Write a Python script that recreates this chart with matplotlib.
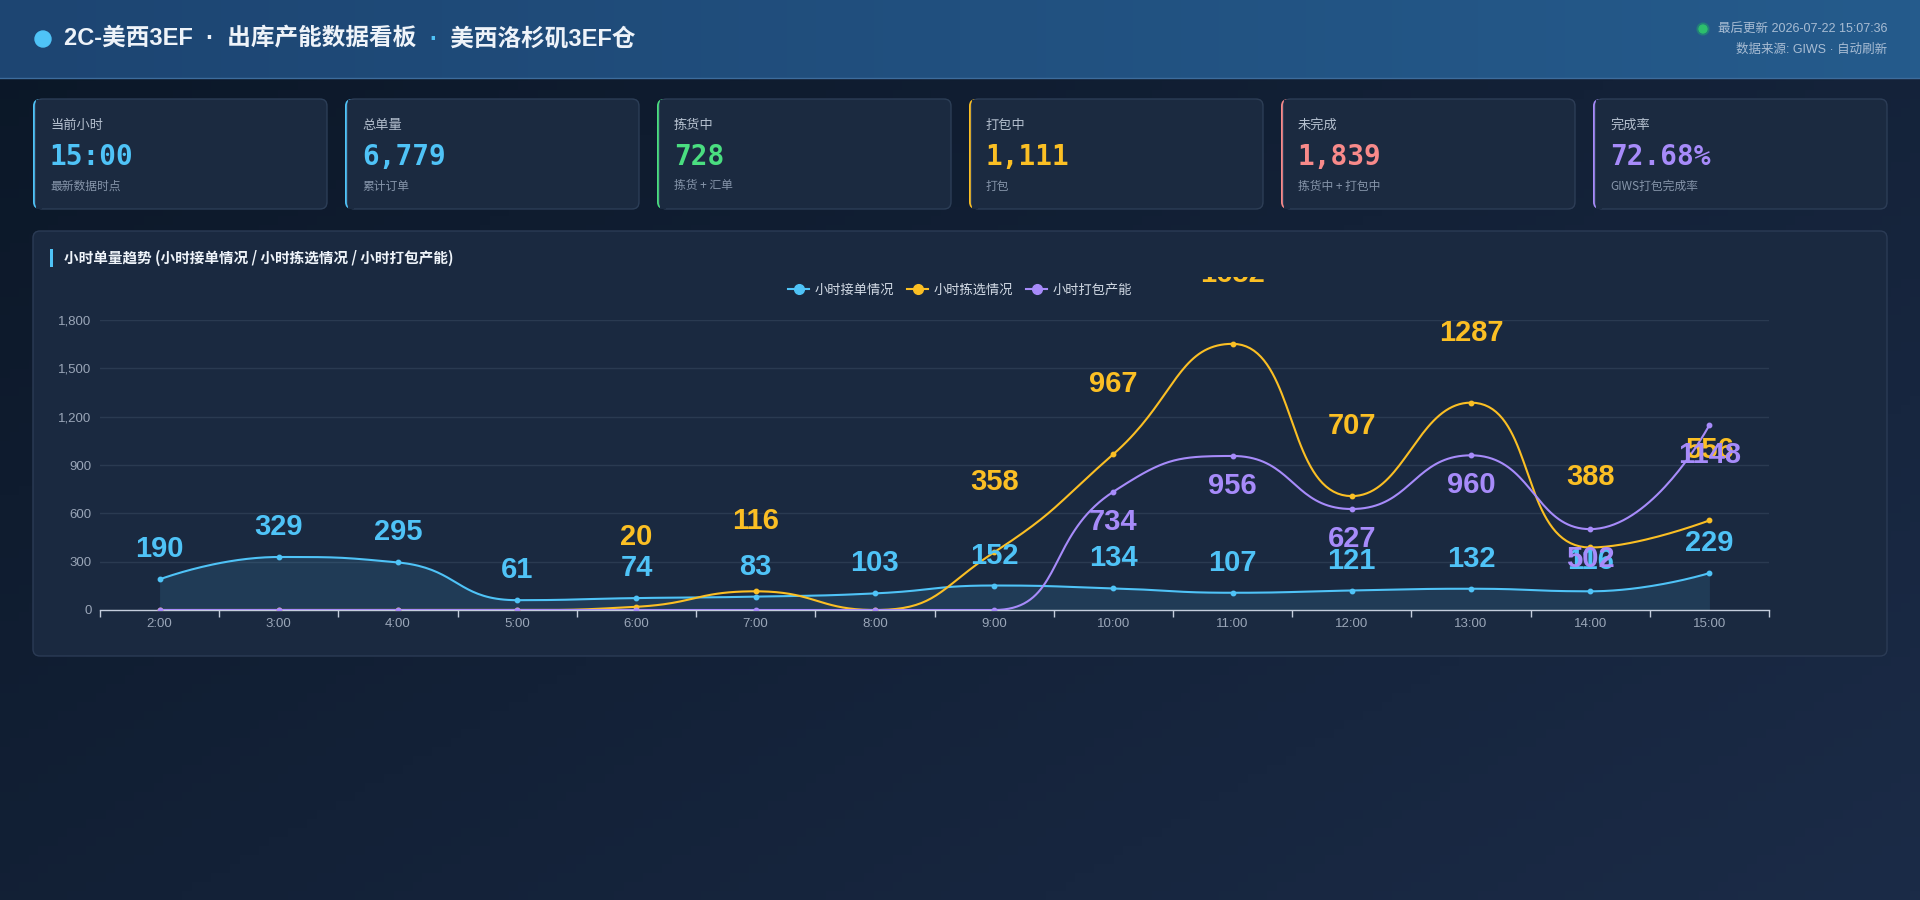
import numpy as np
import matplotlib
matplotlib.use("Agg")
import matplotlib.pyplot as plt
from matplotlib.patches import FancyBboxPatch, Circle, Rectangle
from matplotlib.lines import Line2D
from matplotlib.transforms import Bbox, TransformedBbox, offset_copy
from matplotlib.ticker import FuncFormatter, FixedLocator

plt.rcParams['font.family'] = ['Noto Sans CJK SC', 'DejaVu Sans']

# ---- data ----
hours = ['2:00', '3:00', '4:00', '5:00', '6:00', '7:00', '8:00',
         '9:00', '10:00', '11:00', '12:00', '13:00', '14:00', '15:00']
orders_in = [190, 329, 295, 61, 74, 83, 103, 152, 134, 107, 121, 132, 116, 229]
picked = [0, 0, 0, 0, 20, 116, 0, 358, 967, 1652, 707, 1287, 388, 556]
packed = [0, 0, 0, 0, 0, 0, 0, 0, 734, 956, 627, 960, 502, 1148]
series_names = ['小时接单情况', '小时拣选情况', '小时打包产能']

card_titles = ['当前小时', '总单量', '拣货中', '打包中', '未完成', '完成率']
card_values = ['15:00', '6,779', '728', '1,111', '1,839', '72.68%']
card_subs = ['最新数据时点', '累计订单', '拣货 + 汇单', '打包', '拣货中 + 打包中', 'GIWS打包完成率']

BLUE = '#4fc3f7'
YELLOW = '#fbbf24'
PURPLE = '#a78bfa'
GREEN = '#4ade80'
RED = '#f88a8a'
card_colors = [BLUE, BLUE, GREEN, YELLOW, RED, PURPLE]

W, H = 1920, 900
fig = plt.figure(figsize=(W / 100, H / 100), dpi=100)

# background axes in pixel units (y down)
bg = fig.add_axes([0, 0, 1, 1])
bg.set_xlim(0, W)
bg.set_ylim(H, 0)
bg.axis('off')

gx = np.linspace(0, 1, 200)
gy = np.linspace(0, 1, 100)
GX, GY = np.meshgrid(gx, gy)
t = np.clip(0.55 * GX + 0.45 * GY, 0, 1)
c0 = np.array([0x0b, 0x17, 0x27]) / 255
c1 = np.array([0x1b, 0x2b, 0x47]) / 255
img = c0[None, None, :] * (1 - t[..., None]) + c1[None, None, :] * t[..., None]
bg.imshow(img, extent=[0, W, H, 0], aspect='auto', zorder=0)

# header
h0 = np.array([0x1d, 0x45, 0x72]) / 255
h1 = np.array([0x25, 0x5b, 0x8c]) / 255
th = np.linspace(0, 1, 200)[None, :]
himg = h0[None, None, :] * (1 - th[..., None]) + h1[None, None, :] * th[..., None]
himg = np.repeat(himg, 10, axis=0)
bg.imshow(himg, extent=[0, W, 78, 0], aspect='auto', zorder=1)
bg.plot([0, W], [78, 78], color='#3d6c9c', lw=1, zorder=2)
bg.set_xlim(0, W)
bg.set_ylim(H, 0)

bg.add_patch(Circle((43, 39), 8, color=BLUE, zorder=3))

hdr_font = ['Liberation Sans', 'Noto Sans CJK SC']

# title with coloured separator
r = fig.canvas.get_renderer()
ty = 1 - 39 / H
t1 = fig.text(64 / W, ty, '2C-美西3EF  ·  出库产能数据看板  ', color='#eef3f9',
              fontsize=17, fontweight='bold', va='center', family=hdr_font)
x1 = t1.get_window_extent(r).x1
t2 = fig.text(x1 / W, ty, '·', color=BLUE, fontsize=17, fontweight='bold',
              va='center', family=hdr_font)
x2 = t2.get_window_extent(r).x1
fig.text(x2 / W, ty, '  美西洛杉矶3EF仓', color='#eef3f9', fontsize=17,
         fontweight='bold', va='center', family=hdr_font)

fig.text(1887 / W, 1 - 29 / H, '最后更新 2026-07-22 15:07:36', color='#a9bdd4',
         fontsize=9, ha='right', va='center', family=hdr_font)
fig.text(1887 / W, 1 - 50 / H, '数据来源: GIWS · 自动刷新', color='#a9bdd4',
         fontsize=9, ha='right', va='center', family=hdr_font)
bg.add_patch(Circle((1703, 29), 6, color='#22c55e', alpha=0.25, zorder=3))
bg.add_patch(Circle((1703, 29), 4, color='#2dbf6c', zorder=3))

# KPI cards
cw, ch, cy = 294, 110, 99
for i in range(6):
    cx = 33 + i * 312
    bg.add_patch(FancyBboxPatch((cx, cy), cw, ch, boxstyle='round,pad=0,rounding_size=7',
                                facecolor=card_colors[i], edgecolor='none', zorder=3))
    bg.add_patch(FancyBboxPatch((cx + 2.5, cy), cw - 2.5, ch, boxstyle='round,pad=0,rounding_size=7',
                                facecolor='#1b2a40', edgecolor='#2c3d56', lw=1, zorder=4))
    bg.add_patch(Rectangle((cx + 2.5, cy + 0.5), 6, ch - 1, facecolor='#1b2a40',
                           edgecolor='none', zorder=4))
    fig.text((cx + 17) / W, 1 - 125 / H, card_titles[i], color='#b4bfce', fontsize=9.5,
             va='center')
    fig.text((cx + 17) / W, 1 - 157 / H, card_values[i], color=card_colors[i], fontsize=20,
             fontweight='bold', va='center', family='DejaVu Sans Mono')
    fig.text((cx + 17) / W, 1 - 186 / H, card_subs[i], color='#8695aa', fontsize=8.5,
             va='center')

# chart panel
bg.add_patch(FancyBboxPatch((33, 231), 1854, 425, boxstyle='round,pad=0,rounding_size=7',
                            facecolor='#1a2940', edgecolor='#2b3b55', lw=1, zorder=3))
bg.add_patch(Rectangle((50, 249), 3, 18, facecolor=BLUE, edgecolor='none', zorder=4))
fig.text(64 / W, 1 - 258 / H, '小时单量趋势 (小时接单情况 / 小时拣选情况 / 小时打包产能)',
         color='#eef3f9', fontsize=10.5, fontweight='bold', va='center')

# plot axes
ax = fig.add_axes([100 / W, 1 - 610 / H, 1669 / W, 290 / H])
ax.set_facecolor('none')
ax.set_xlim(-0.5, len(hours) - 0.5)
ax.set_ylim(0, 1800)
ax.set_yticks(range(0, 1801, 300))
ax.yaxis.set_major_formatter(FuncFormatter(lambda v, p: f'{int(v):,}'))
ax.grid(axis='y', color='#2a3a51', lw=1)
ax.set_axisbelow(True)
for s in ['top', 'right', 'left']:
    ax.spines[s].set_visible(False)
ax.spines['bottom'].set_color('#c5cddc')
ax.spines['bottom'].set_linewidth(1)
ax.xaxis.set_major_locator(FixedLocator(np.arange(-0.5, len(hours), 1.0)))
ax.xaxis.set_major_formatter(FuncFormatter(lambda v, p: ''))
ax.xaxis.set_minor_locator(FixedLocator(np.arange(len(hours))))
ax.set_xticklabels(hours, minor=True)
ax.tick_params(axis='x', which='major', length=5, color='#c5cddc', width=1)
ax.tick_params(axis='x', which='minor', length=0, pad=6, labelsize=9.5, labelcolor='#9aa6b8')
ax.tick_params(axis='y', length=0, pad=6, labelsize=9.5, labelcolor='#9aa6b8')
for lab in ax.get_xticklabels(minor=True) + ax.get_yticklabels():
    lab.set_family(['Liberation Sans', 'DejaVu Sans'])


def smooth_line(xs, ys, smooth=0.5, n=40):
    # echarts-style smoothing (with extreme constraint) in screen space
    pts = ax.transData.transform(np.column_stack([xs, ys]).astype(float))
    out = [pts[0]]
    cp0 = pts[0].copy()
    tt = np.linspace(0, 1, n)[1:, None]
    for k in range(1, len(pts)):
        p, prev = pts[k], pts[k - 1]
        if k + 1 < len(pts):
            nxt = pts[k + 1]
            l0 = np.hypot(*(p - prev))
            l1 = np.hypot(*(nxt - p))
            rr = l1 / (l0 + l1)
            v = nxt - prev
            ncp0 = p + v * smooth * rr
            ncp0 = np.minimum(ncp0, np.maximum(nxt, p))
            ncp0 = np.maximum(ncp0, np.minimum(nxt, p))
            v = ncp0 - p
            cp1 = p - v * l0 / l1
            cp1 = np.minimum(cp1, np.maximum(prev, p))
            cp1 = np.maximum(cp1, np.minimum(prev, p))
            v = p - cp1
            ncp0 = p + v * l1 / l0
        else:
            cp1 = p.copy()
            ncp0 = p.copy()
        seg = ((1 - tt) ** 3) * prev + 3 * ((1 - tt) ** 2) * tt * cp0 \
            + 3 * (1 - tt) * tt ** 2 * cp1 + tt ** 3 * p
        out.extend(seg)
        cp0 = ncp0
    out = ax.transData.inverted().transform(np.array(out))
    return out[:, 0], out[:, 1]


xs = np.arange(len(hours))
series = [(orders_in, BLUE, 30), (picked, YELLOW, 70), (packed, PURPLE, -30)]
clip = TransformedBbox(Bbox.from_extents(33 / W, 0, 1887 / W, 1 - 277 / H), fig.transFigure)

for z, (vals, col, off) in enumerate(series):
    sx, sy = smooth_line(xs, vals)
    if z == 0:
        ax.fill_between(sx, sy, 0, color=col, alpha=0.12, lw=0, zorder=2)
    ax.plot(sx, sy, color=col, lw=1.5, zorder=3 + z)
    ax.plot(xs, vals, 'o', color=col, ms=3.2, zorder=3 + z)

for vals, col, off in series:
    tr = offset_copy(ax.transData, fig=fig, x=0, y=off, units='dots')
    for x, v in zip(xs, vals):
        if v == 0:
            continue
        tx = fig.text(x, v, str(v), transform=tr, color=col, fontsize=21,
                      fontweight='bold', ha='center', va='center',
                      family=['Liberation Sans', 'DejaVu Sans'], clip_on=True)
        tx.set_clip_box(clip)

handles = [Line2D([], [], color=c, lw=1.5, marker='o', ms=7) for c in (BLUE, YELLOW, PURPLE)]
fig.legend(handles, series_names, loc='center', bbox_to_anchor=(0.5, 1 - 290 / H), ncol=3,
           frameon=False, fontsize=9.5, labelcolor='#d3dbe6', handlelength=1.6,
           handletextpad=0.4, columnspacing=1.0)

fig.savefig('out.png', dpi=100)
